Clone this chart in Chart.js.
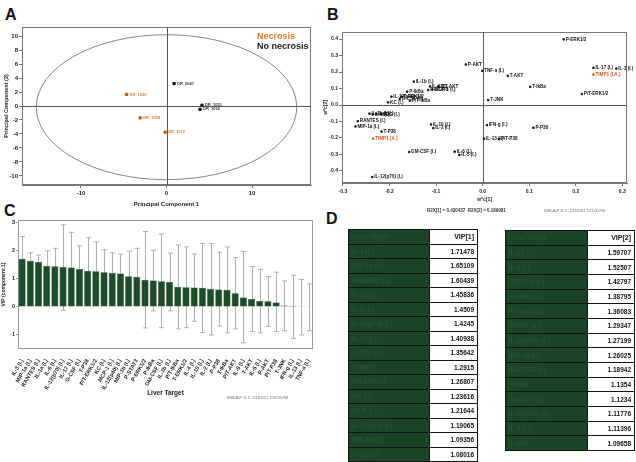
<!DOCTYPE html>
<html>
<head>
<meta charset="utf-8">
<script src="https://cdn.jsdelivr.net/npm/chart.js@4.4.0/dist/chart.umd.min.js"></script>
<style>
  body { margin: 0; width: 636px; height: 462px; background: #fff; position: relative; overflow: hidden; font-family: Arial, "Liberation Sans", sans-serif; }
  canvas { position: absolute; }
  .panel { position: absolute; font-weight: bold; font-size: 16px; color: #111; }
  .txt { position: absolute; white-space: nowrap; font-weight: bold; }
  table { position: absolute; border-collapse: collapse; table-layout: fixed; }
  td { border: 1px solid #111; padding: 0 3px; font-size: 6.5px; font-weight: bold; overflow: hidden; white-space: nowrap; }
  td.g { background: #1c4526; color: #285234; }
  td.v { background: #fff; color: #111; text-align: right; }
</style>
</head>
<body>
<div class="panel" style="left:5px;top:6px">A</div>
<div class="panel" style="left:327px;top:6px">B</div>
<div class="panel" style="left:4px;top:202px">C</div>
<div class="panel" style="left:326px;top:210px">D</div>

<canvas id="chartA" width="320" height="215" style="left:0;top:0"></canvas>
<canvas id="chartB" width="316" height="220" style="left:320px;top:0"></canvas>
<canvas id="chartC" width="320" height="190" style="left:0;top:210px"></canvas>

<div class="txt" style="left:257px;top:31px;font-size:9px;color:#e07a2c">Necrosis</div>
<div class="txt" style="left:257px;top:41px;font-size:9px;color:#1a1a1a">No necrosis</div>
<div class="txt" style="left:427px;top:208px;font-size:4.5px;color:#333">R2X[1] = 0.430437&nbsp;&nbsp;R2X[2] = 0.189981</div>
<div class="txt" style="left:544px;top:209px;font-size:3.6px;color:#666;font-weight:normal">SIMCA-P 11.5 - 2/16/2011 3:21:00 PM</div>
<div class="txt" style="left:227px;top:396px;font-size:3.6px;color:#666;font-weight:normal">SIMCA-P 11.5 - 2/16/2011 3:26:56 PM</div>

<table id="tab1" style="left:348px;top:229px;width:130px"></table>
<table id="tab2" style="left:505px;top:230px;width:130px"></table>

<script>
// ---- Panel A: PCA scores ----
const aNecX = [-4.67, -3.08, -0.16];
const aNecY = [1.66, -1.7, -3.74];
const aNecNames = ['DR_1030', 'DR_1038', 'DR_1072'];
const aNoX = [0.89, 4.15, 3.92];
const aNoY = [3.2, 0.1, -0.47];
const aNoNames = ['DR_5047', 'DR_1051', 'DR_1032'];
const aXTicks = [-10, 0, 10];
const aYTicks = [10, 8, 6, 4, 2, 0, -2, -4, -6, -8, -10];
const aEllipse = { cx: 0, cy: -0.17, rx: 15.23, ry: 10.37 };

// ---- Panel B: loadings ----
const bNames = ['P-ERK1/2', 'IL-17 (I.)', 'IL-3 (I.)', 'TIMP1 (I.A.)', 'P/T-ERK1/2', 'T-IkBa', 'T-AKT', 'TNF-a (I.)', 'P-AKT', 'T-JNK',
  'IFN-g (I.)', 'P-P38', 'IL-13 (I.)', 'P/T-P38', 'IL-6 (I.)', 'IL-5 (I.)', 'GM-CSF (I.)', 'IL-10 (I.)', 'IL-2 (I.)', 'IL-12(p70) (I.)',
  'TIMP1 (A.)', 'T-P38', 'MIP-1a (I.)', 'RANTES (I.)', 'IL-1a (I.)', 'IL-9 (I.)', 'IL-4 (I.)', 'EPO (I.)',
  'IL-1b (I.)', 'IL-6 (I.)', 'P/T-AKT', 'P-STAT3', 'MCP-1 (I.)', 'P-IkBa', 'IL-12(p40) (I.)', 'T-ERK1/2', 'G-CSF (I.)', 'P/T-IkBa', 'KC (I.)'];
const bX = [0.174, 0.238, 0.287, 0.238, 0.213, 0.102, 0.054, -0.001, -0.036, 0.012,
  0.009, 0.109, 0.003, 0.035, -0.060, -0.050, -0.158, -0.111, -0.106, -0.237,
  -0.235, -0.217, -0.273, -0.268, -0.243, -0.236, -0.228, -0.218,
  -0.148, -0.113, -0.095, -0.117, -0.108, -0.162, -0.196, -0.174, -0.178, -0.156, -0.203];
const bY = [0.398, 0.226, 0.221, 0.185, 0.067, 0.110, 0.177, 0.207, 0.246, 0.030,
  -0.122, -0.138, -0.204, -0.205, -0.283, -0.303, -0.285, -0.118, -0.140, -0.437,
  -0.204, -0.161, -0.130, -0.098, -0.052, -0.057, -0.054, -0.056,
  0.142, 0.113, 0.113, 0.091, 0.094, 0.081, 0.051, 0.051, 0.037, 0.026, 0.016];
const bHighlight = ['TIMP1 (I.A.)', 'TIMP1 (A.)'];
const bXTicks = [-0.3, -0.2, -0.1, 0.0, 0.1, 0.2, 0.3];
const bYTicks = [0.4, 0.3, 0.2, 0.1, 0.0, -0.1, -0.2, -0.3, -0.4];

// ---- Panel C: VIP bars ----
const cLabels = ['IL-3 (I.)', 'MIP-1a (I.)', 'RANTES (I.)', 'IL-1a (I.)', 'IL-6 (I.)', 'IL-12(p70) (I.)', 'IL-17 (I.)', 'G-CSF (I.)', 'T-P38', 'P/T-ERK1/2',
  'KC (I.)', 'MCP-1 (I.)', 'IL-12(p40) (I.)', 'MIP-1b (I.)', 'P-STAT3', 'P-ERK1/2', 'P-IkBa', 'GM-CSF (I.)', 'IL-1b (I.)', 'P/T-IkBa',
  'T-ERK1/2', 'IL-4 (I.)', 'IL-10 (I.)', 'IL-2 (I.)', 'P-P38', 'T-IkBa', 'P/T-AKT', 'IL-9 (I.)', 'T-AKT', 'IL-5 (I.)',
  'P-AKT', 'P/T-P38', 'T-JNK', 'IFN-g (I.)', 'IL-13 (I.)', 'TNF-a (I.)'];
const cVip = [1.71478, 1.65109, 1.60439, 1.45836, 1.4509, 1.4245, 1.40938, 1.35642, 1.2915, 1.26807,
  1.23616, 1.21644, 1.19065, 1.09356, 1.08016, 0.97, 0.94, 0.92, 0.89, 0.72,
  0.70, 0.69, 0.68, 0.64, 0.62, 0.61, 0.49, 0.34, 0.28, 0.21,
  0.20, 0.16, 0.05, 0.04, 0.02, 0.02];
const cUpper = [2.51, 1.93, 1.85, 2.0, 2.09, 2.93, 2.66, 2.18, 2.47, 2.32,
  2.04, 1.93, 1.88, 1.99, 2.09, 2.69, 2.02, 2.6, 1.92, 2.21,
  2.14, 1.89, 2.26, 2.26, 1.95, 2.14, 1.76, 1.98, 1.44, 1.34,
  1.08, 1.24, 0.93, 1.13, 0.98, 0.82];
const cLower = [0.92, 1.37, 1.36, 0.92, 0.81, -0.12, 0.16, 0.53, 0.11, 0.22,
  0.43, 0.5, 0.5, 0.2, 0.07, -0.75, -0.14, -0.74, -0.14, -0.78,
  -0.74, -0.51, -0.91, -1.0, -0.68, -0.92, -0.78, -1.28, -0.88, -0.92,
  -0.69, -0.88, -0.85, -1.12, -1.0, -0.85];
const cYTicks = [3, 2, 1, 0, -1];

// ---- Panel D: VIP tables ----
const t1Names = ['IL-3 (I.)', 'MIP-1a (I.)', 'RANTES (I.)', 'IL-1a (I.)', 'IL-6 (I.)', 'IL-12(p70) (I.)', 'IL-17 (I.)', 'G-CSF (I.)',
  'T-P38', 'P/T-ERK1/2', 'KC (I.)', 'MCP-1 (I.)', 'IL-12(p40) (I.)', 'MIP-1b (I.)', 'P-STAT3'];
const t1Vip = ['1.71478', '1.65109', '1.60439', '1.45836', '1.4509', '1.4245', '1.40938', '1.35642', '1.2915', '1.26807',
  '1.23616', '1.21644', '1.19065', '1.09356', '1.08016'];
const t2Names = ['IL-17 (I.)', 'IL-3 (I.)', 'TIMP1 (I.A.)', 'P-ERK1/2', 'P/T-ERK1/2', 'TIMP1 (A.)', 'IL-12(p70) (I.)', 'MIP-1a (I.)',
  'RANTES (I.)', 'T-P38', 'GM-CSF (I.)', 'IL-12(p40) (I.)', 'IL-5 (I.)', 'P-AKT'];
const t2Vip = ['1.59707', '1.52507', '1.42797', '1.38795', '1.36083', '1.29347', '1.27199', '1.26025', '1.18942', '1.1354',
  '1.1234', '1.11776', '1.11396', '1.09658'];

Chart.defaults.font.family = 'Arial, "Liberation Sans", sans-serif';
Chart.defaults.font.weight = 'bold';
Chart.defaults.color = '#222';
Chart.defaults.animation = false;

function fixedTicks(list) {
  return s => { s.ticks = list.map(v => ({ value: v })); };
}

// draws the box, zero lines and point labels
function framePlugin(opts) {
  return {
    id: 'frame' + opts.key,
    beforeDatasetsDraw(chart) {
      const { ctx, chartArea: a, scales } = chart;
      ctx.save();
      ctx.strokeStyle = opts.boxColor || '#777';
      ctx.lineWidth = 1;
      ctx.strokeRect(a.left + 0.5, a.top + 0.5, a.width - 1, a.height - 1);
      if (opts.cross) {
        const x0 = scales.x.getPixelForValue(0), y0 = scales.y.getPixelForValue(0);
        ctx.strokeStyle = '#555';
        ctx.beginPath();
        ctx.moveTo(a.left, Math.round(y0) + 0.5); ctx.lineTo(a.right, Math.round(y0) + 0.5);
        ctx.moveTo(Math.round(x0) + 0.5, a.top); ctx.lineTo(Math.round(x0) + 0.5, a.bottom);
        ctx.stroke();
      }
      if (opts.before) opts.before(chart);
      ctx.restore();
    },
    afterDatasetsDraw(chart) {
      if (opts.after) { chart.ctx.save(); opts.after(chart); chart.ctx.restore(); }
    }
  };
}

// ---------- A ----------
new Chart(document.getElementById('chartA'), {
  type: 'scatter',
  data: {
    datasets: [
      { data: aNecX.map((x, i) => ({ x, y: aNecY[i] })), backgroundColor: '#d86a1e', borderColor: '#b85510', pointStyle: 'rect', pointRadius: 1.6 },
      { data: aNoX.map((x, i) => ({ x, y: aNoY[i] })), backgroundColor: '#222', borderColor: '#111', pointStyle: 'rect', pointRadius: 1.6 }
    ]
  },
  options: {
    responsive: false,
    layout: { padding: { top: 27, right: 9, left: 0, bottom: 0 } },
    plugins: { legend: { display: false }, tooltip: { enabled: false } },
    scales: {
      x: {
        min: -16.9, max: 16.9, afterBuildTicks: fixedTicks(aXTicks),
        afterFit: s => { s.height = 30; },
        grid: { drawOnChartArea: false, tickLength: 3, color: '#777' },
        border: { color: '#777' },
        ticks: { font: { size: 6 }, padding: 2 },
        title: { display: true, text: 'Principal Component 1', font: { size: 6 }, padding: { top: 0, bottom: 7.4 } }
      },
      y: {
        min: -11.3, max: 11.3, afterBuildTicks: fixedTicks(aYTicks),
        afterFit: s => { s.width = 22; },
        grid: { drawOnChartArea: false, tickLength: 3, color: '#777' },
        border: { color: '#777' },
        ticks: { font: { size: 6 }, padding: 1, autoSkip: false },
        title: { display: true, text: 'Principal Component (2)', font: { size: 5.5 }, padding: { top: 3, bottom: 0 } }
      }
    }
  },
  plugins: [framePlugin({
    key: 'A', cross: true,
    before(chart) {
      const { ctx, scales: { x, y } } = chart;
      const cx = x.getPixelForValue(aEllipse.cx), cy = y.getPixelForValue(aEllipse.cy);
      const rx = x.getPixelForValue(aEllipse.cx + aEllipse.rx) - cx;
      const ry = cy - y.getPixelForValue(aEllipse.cy + aEllipse.ry);
      ctx.strokeStyle = '#666';
      ctx.lineWidth = 0.8;
      ctx.beginPath();
      ctx.ellipse(cx, cy, rx, ry, 0, 0, Math.PI * 2);
      ctx.stroke();
    },
    after(chart) {
      const { ctx, scales: { x, y } } = chart;
      ctx.font = 'bold 4px Arial';
      ctx.textBaseline = 'middle';
      ctx.fillStyle = '#e07a2c';
      aNecX.forEach((v, i) => ctx.fillText(aNecNames[i], x.getPixelForValue(v) + 3, y.getPixelForValue(aNecY[i])));
      ctx.fillStyle = '#333';
      aNoX.forEach((v, i) => ctx.fillText(aNoNames[i], x.getPixelForValue(v) + 3, y.getPixelForValue(aNoY[i])));
    }
  })]
});

// ---------- B ----------
new Chart(document.getElementById('chartB'), {
  type: 'scatter',
  data: {
    datasets: [{
      data: bX.map((x, i) => ({ x, y: bY[i] })),
      backgroundColor: bNames.map(n => bHighlight.includes(n) ? '#d8541e' : '#111'),
      borderColor: bNames.map(n => bHighlight.includes(n) ? '#d8541e' : '#111'),
      pointStyle: 'rect', pointRadius: 1
    }]
  },
  options: {
    responsive: false,
    layout: { padding: { top: 32, right: 9, left: 0, bottom: 0 } },
    plugins: { legend: { display: false }, tooltip: { enabled: false } },
    scales: {
      x: {
        min: -0.302, max: 0.31, afterBuildTicks: fixedTicks(bXTicks),
        afterFit: s => { s.height = 37; },
        grid: { drawOnChartArea: false, tickLength: 3, color: '#777' },
        border: { color: '#777' },
        ticks: { font: { size: 5 }, padding: 3, callback: v => v.toFixed(1) },
        title: { display: true, text: 'w*c[1]', font: { size: 5 }, padding: { top: 0, bottom: 17 } }
      },
      y: {
        min: -0.473, max: 0.443, afterBuildTicks: fixedTicks(bYTicks),
        afterFit: s => { s.width = 22; },
        grid: { drawOnChartArea: false, tickLength: 3, color: '#777' },
        border: { color: '#777' },
        ticks: { font: { size: 5 }, padding: 1, autoSkip: false, callback: v => v.toFixed(1) },
        title: { display: true, text: 'w*c[2]', font: { size: 5 }, padding: { top: 3, bottom: 0 } }
      }
    }
  },
  plugins: [framePlugin({
    key: 'B', cross: true,
    after(chart) {
      const { ctx, scales: { x, y } } = chart;
      ctx.font = 'bold 4.6px Arial';
      ctx.textBaseline = 'middle';
      bNames.forEach((n, i) => {
        ctx.fillStyle = bHighlight.includes(n) ? '#d8541e' : '#111';
        ctx.fillText(n, x.getPixelForValue(bX[i]) + 2, y.getPixelForValue(bY[i]));
      });
    }
  })]
});

// ---------- C ----------
new Chart(document.getElementById('chartC'), {
  type: 'bar',
  data: {
    labels: cLabels,
    datasets: [{ data: cVip, backgroundColor: '#1f4d2b', borderColor: '#153a1f', borderWidth: 0.5, categoryPercentage: 1, barPercentage: 0.86 }]
  },
  options: {
    responsive: false,
    layout: { padding: { top: 10, right: 7, left: 0, bottom: 0 } },
    plugins: { legend: { display: false }, tooltip: { enabled: false } },
    scales: {
      x: {
        afterFit: s => { s.height = 51; },
        grid: { display: false },
        border: { display: false },
        ticks: { font: { size: 5.5 }, color: '#1a1a1a', minRotation: 60, maxRotation: 60, autoSkip: false, padding: 1 },
        title: { display: true, text: 'Liver Target', font: { size: 6.5 }, padding: { top: 0, bottom: 3 } }
      },
      y: {
        min: -1.5, max: 3.1, afterBuildTicks: fixedTicks(cYTicks),
        afterFit: s => { s.width = 18; },
        grid: { drawOnChartArea: false, tickLength: 2, color: '#999' },
        border: { display: false },
        ticks: { font: { size: 5.5 }, padding: 1, autoSkip: false },
        title: { display: true, text: 'VIP (component 1)', font: { size: 5 }, padding: { top: 1, bottom: 0 } }
      }
    }
  },
  plugins: [framePlugin({
    key: 'C', boxColor: '#999',
    before(chart) {
      const { ctx, scales: { x, y } } = chart;
      ctx.strokeStyle = '#9a9a9a';
      ctx.lineWidth = 0.8;
      ctx.beginPath();
      cVip.forEach((v, i) => {
        const px = Math.round(x.getPixelForValue(i)) + 0.5;
        const yt = y.getPixelForValue(cUpper[i]), yb = y.getPixelForValue(cLower[i]);
        ctx.moveTo(px, yt); ctx.lineTo(px, yb);
        ctx.moveTo(px - 2.5, yt); ctx.lineTo(px + 2.5, yt);
        ctx.moveTo(px - 2.5, yb); ctx.lineTo(px + 2.5, yb);
      });
      ctx.stroke();
    }
  })]
});

// ---------- D ----------
function buildTable(id, head, names, vals, rowH) {
  let html = '<colgroup><col style="width:' + (id === 'tab1' ? 81 : 82) + 'px"><col></colgroup>';
  html += '<tr style="height:' + rowH + 'px"><td class="g">Liver Target</td><td class="v" style="font-size:7px">' + head + '</td></tr>';
  names.forEach((n, i) => {
    html += '<tr style="height:' + rowH + 'px"><td class="g">' + n + '</td><td class="v">' + vals[i] + '</td></tr>';
  });
  document.getElementById(id).innerHTML = html;
}
buildTable('tab1', 'VIP[1]', t1Names, t1Vip, 14.5);
buildTable('tab2', 'VIP[2]', t2Names, t2Vip, 14.67);
</script>
</body>
</html>
